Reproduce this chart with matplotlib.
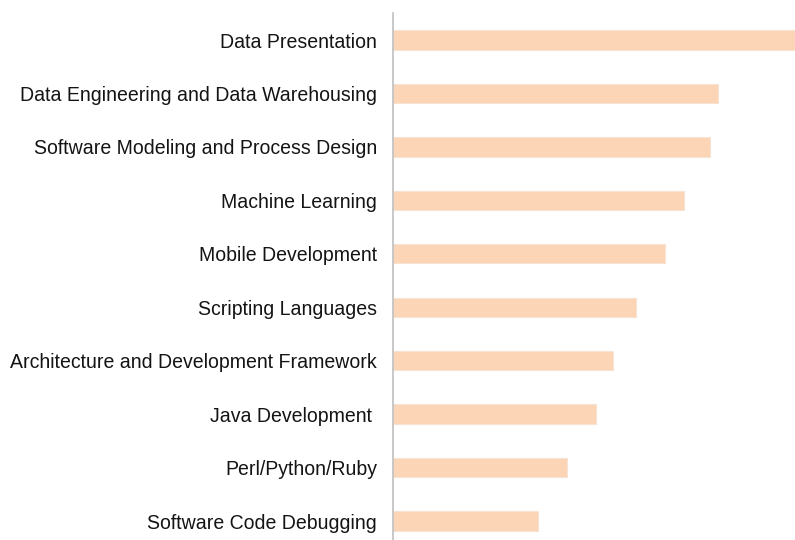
import matplotlib.pyplot as plt

# skills, top to bottom
skills = ['Data Presentation', 'Data Engineering and Data Warehousing',
          'Software Modeling and Process Design', 'Machine Learning',
          'Mobile Development', 'Scripting Languages',
          'Architecture and Development Framework', 'Java Development ',
          'Perl/Python/Ruby', 'Software Code Debugging']
scores = [402, 325, 317, 291, 272, 243, 220, 203, 174, 145]

plt.rcParams['font.family'] = ['Liberation Sans', 'DejaVu Sans']

fig = plt.figure(figsize=(7.95, 5.4), dpi=100)
ax = fig.add_axes([393 / 795, -0.0143, 402 / 795, 0.9897])

pos = list(range(len(skills)))[::-1]
ax.barh(pos, scores, height=0.36, color='#FBD5B5', edgecolor='#F6E3D3', linewidth=0.8)

ax.set_xlim(0, max(scores))
ax.set_ylim(-0.5, len(skills) - 0.5)
ax.set_yticks(pos)
ax.set_yticklabels(skills, fontsize=14.05, color='#141414')
ax.tick_params(axis='y', length=0, pad=11.5)
ax.set_xticks([])
for s in ['top', 'right', 'bottom']:
    ax.spines[s].set_visible(False)
ax.spines['left'].set_color('#BFBFBF')
ax.spines['left'].set_linewidth(1.2)

fig.savefig('out.png', dpi=100)
